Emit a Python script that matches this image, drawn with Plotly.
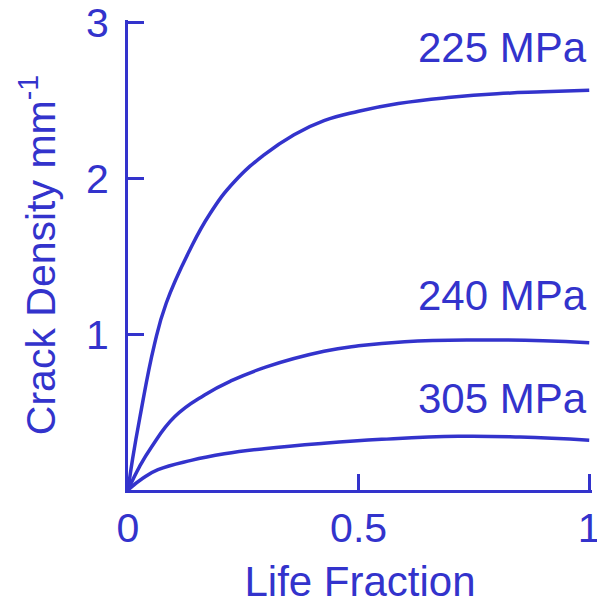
import plotly.graph_objects as go

# curve points (life fraction, crack density per mm)
x_225 = [0, 0.01, 0.026, 0.057, 0.083, 0.134, 0.177, 0.231, 0.295, 0.36, 0.425, 0.5, 0.586, 0.7, 0.8, 0.9, 1.0]
y_225 = [0, 0.2, 0.47, 0.93, 1.2, 1.54, 1.77, 1.98, 2.15, 2.28, 2.37, 2.43, 2.48, 2.52, 2.543, 2.555, 2.565]

x_240 = [0, 0.025, 0.051, 0.101, 0.166, 0.223, 0.30, 0.425, 0.5, 0.6, 0.75, 0.9, 1.0]
y_240 = [0, 0.15, 0.276, 0.47, 0.61, 0.70, 0.79, 0.89, 0.925, 0.952, 0.963, 0.958, 0.945]

x_305 = [0, 0.032, 0.065, 0.137, 0.209, 0.295, 0.425, 0.55, 0.716, 0.85, 1.0]
y_305 = [0, 0.075, 0.13, 0.19, 0.232, 0.265, 0.30, 0.325, 0.345, 0.34, 0.32]

labels = ["225 MPa", "240 MPa", "305 MPa"]
label_y = [2.84, 1.245, 0.587]

col = "#3333cc"
fnt = "Liberation Sans, Arial, sans-serif"

fig = go.Figure()
for xs, ys in [(x_225, y_225), (x_240, y_240), (x_305, y_305)]:
    fig.add_trace(go.Scatter(x=xs, y=ys, mode="lines",
                             line=dict(color=col, width=3.5, shape="spline", smoothing=1.3),
                             showlegend=False, cliponaxis=False))

for lab, ly in zip(labels, label_y):
    fig.add_annotation(x=1.0, y=ly, text=lab, showarrow=False, xanchor="right", yanchor="middle",
                       font=dict(size=42, color=col, family=fnt))

# the page body adds an 8px offset, so the figure is a little smaller than the window
fig.update_layout(
    width=597, height=599,
    margin=dict(l=120, r=13, t=12, b=117),
    plot_bgcolor="white", paper_bgcolor="white",
    font=dict(family=fnt, size=41, color=col),
)
fig.update_xaxes(range=[0, 1.006], tickvals=[0, 0.5, 1], ticktext=["0", "0.5", "1"],
                 showgrid=False, zeroline=False, showline=True, linecolor=col, linewidth=3,
                 ticks="inside", ticklen=16, tickwidth=3, tickcolor=col, automargin=False,
                 tickfont=dict(size=41, family=fnt, color=col),
                 title=dict(text="Life Fraction", standoff=17, font=dict(size=42, family=fnt, color=col)))
fig.update_yaxes(range=[0, 3.016], tickvals=[1, 2, 3], ticktext=["1", "2", "3"],
                 showgrid=False, zeroline=False, showline=True, linecolor=col, linewidth=3,
                 ticks="inside", ticklen=16, tickwidth=3, tickcolor=col, automargin=False,
                 ticklabelstandoff=8, ticklabeloverflow="allow",
                 tickfont=dict(size=41, family=fnt, color=col),
                 title=dict(text="Crack Density mm<sup>-1</sup>", standoff=18,
                            font=dict(size=41, family=fnt, color=col)))

fig.write_html("out.html")
